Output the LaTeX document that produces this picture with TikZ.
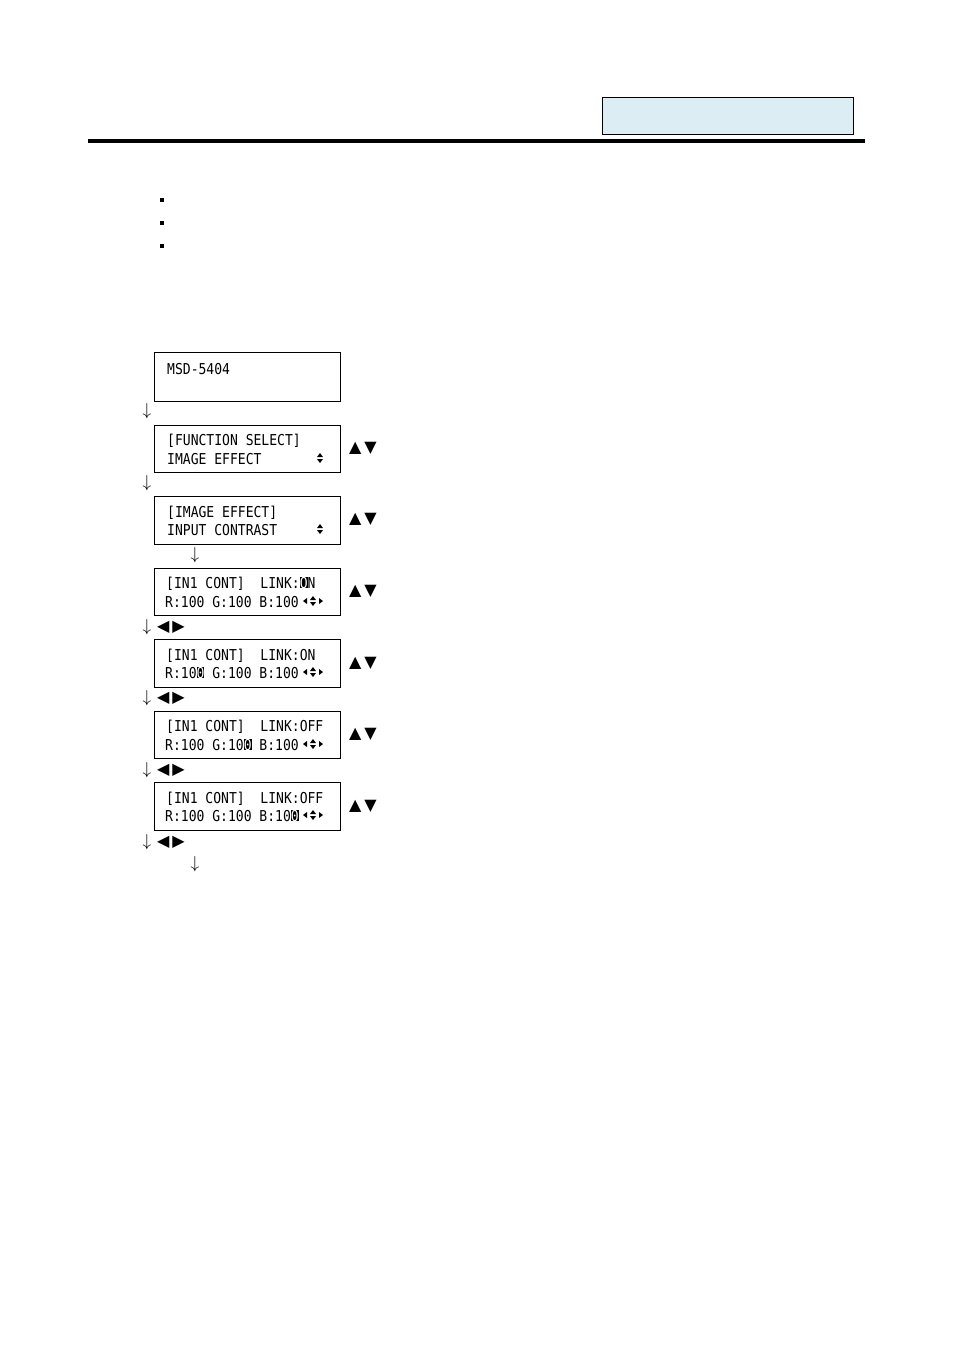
\documentclass[tikz,border=0pt]{standalone}
\usepackage{fontspec}
\usetikzlibrary{positioning}
\newfontfamily\lcdfont{DejaVu Sans Mono}[FakeStretch=0.87]
\newfontfamily\symfont{DejaVu Sans}
\definecolor{hdrblue}{RGB}{220,238,244}
\newcommand{\hlchar}[1]{{\setlength{\fboxsep}{0pt}\colorbox{black}{\textcolor{white}{#1}}}}

\begin{document}
\begin{tikzpicture}[x=1pt, y=-1pt,
  lcd/.style={draw, line width=0.9pt, minimum width=186pt, minimum height=48pt, inner sep=0pt, anchor=north west},
  lcdline/.style={anchor=base west, inner sep=0pt, font=\lcdfont\fontsize{15}{15}\selectfont},
  keys/.style={inner sep=0pt, font=\symfont\fontsize{16}{16}\selectfont},
  down/.style={inner sep=0pt, font=\fontsize{17}{17}\selectfont},
  updn/.pic={\fill (-3,-1) -- (3,-1) -- (0,-5) -- cycle;
             \fill (-3,1) -- (3,1) -- (0,5) -- cycle;},
  lr/.pic={\fill (-10,0) -- (-6,-3) -- (-6,3) -- cycle;
           \fill (10,0) -- (6,-3) -- (6,3) -- cycle;}]
\useasboundingbox[fill=white] (0,0) rectangle (954,1350);

% header
\node[draw, fill=hdrblue, line width=0.9pt, minimum width=251pt, minimum height=37pt, inner sep=0pt, anchor=north west] (hdr) at (602,97) {};
\draw[line width=3.5pt] (88,141) -- (865,141);
\foreach \y in {200,223,246}
  \fill (159.5,\y-2) rectangle (163.5,\y+2);

% display boxes
\node[lcd, minimum height=49pt] (b1) at (154,352) {};
\node[lcd, minimum height=47pt] (b2) at (154,425) {};
\node[lcd] (b3) at (154,496) {};
\node[lcd, minimum height=47pt] (b4) at (154,568) {};
\node[lcd] (b5) at (154,639) {};
\node[lcd, minimum height=47pt] (b6) at (154,711) {};
\node[lcd] (b7) at (154,782) {};

% display texts
\node[lcdline] (t1a) at (167,374) {MSD-5404};
\node[lcdline] (t2a) at (167,445) {[FUNCTION SELECT]};
\node[lcdline] (t2b) at (167,464) {IMAGE EFFECT};
\node[lcdline] (t3a) at (167,517) {[IMAGE EFFECT]};
\node[lcdline] (t3b) at (167,535) {INPUT CONTRAST};
\node[lcdline] (t4a) at (166,588) {[IN1 CONT]~~LINK:\hlchar{O}N};
\node[lcdline] (t4b) at (165,607) {R:100 G:100 B:100};
\node[lcdline] (t5a) at (166,660) {[IN1 CONT]~~LINK:ON};
\node[lcdline] (t5b) at (165,678) {R:10\hlchar{0} G:100 B:100};
\node[lcdline] (t6a) at (166,731) {[IN1 CONT]~~LINK:OFF};
\node[lcdline] (t6b) at (165,750) {R:100 G:10\hlchar{0} B:100};
\node[lcdline] (t7a) at (166,803) {[IN1 CONT]~~LINK:OFF};
\node[lcdline] (t7b) at (165,821) {R:100 G:100 B:10\hlchar{0}};

% scroll marks
\pic at (320,458) {updn};
\pic at (320,529) {updn};
\foreach \y in {601,672,744,815} {
  \pic at (313,\y) {updn};
  \pic at (313,\y) {lr};
}

% keys
\foreach \y/\n in {448/2,519/3,591/4,663/5,734/6,806/7}
  \node[keys] (ud\n) at (363,\y) {▲\hspace{3pt}▼};
\foreach \y/\n in {411/1,483/2,627/4,698/5,770/6,842/7}
  \node[down] (dn\n) at (147,\y) {$\downarrow$};
\foreach \y/\n in {627/4,698/5,770/6,842/7}
  \node[keys] (lr\n) at (171,\y) {◀\hspace{3pt}▶};
\node[down] (dn3) at (195,555) {$\downarrow$};
\node[down] (dn8) at (195,864) {$\downarrow$};
\end{tikzpicture}
\end{document}
